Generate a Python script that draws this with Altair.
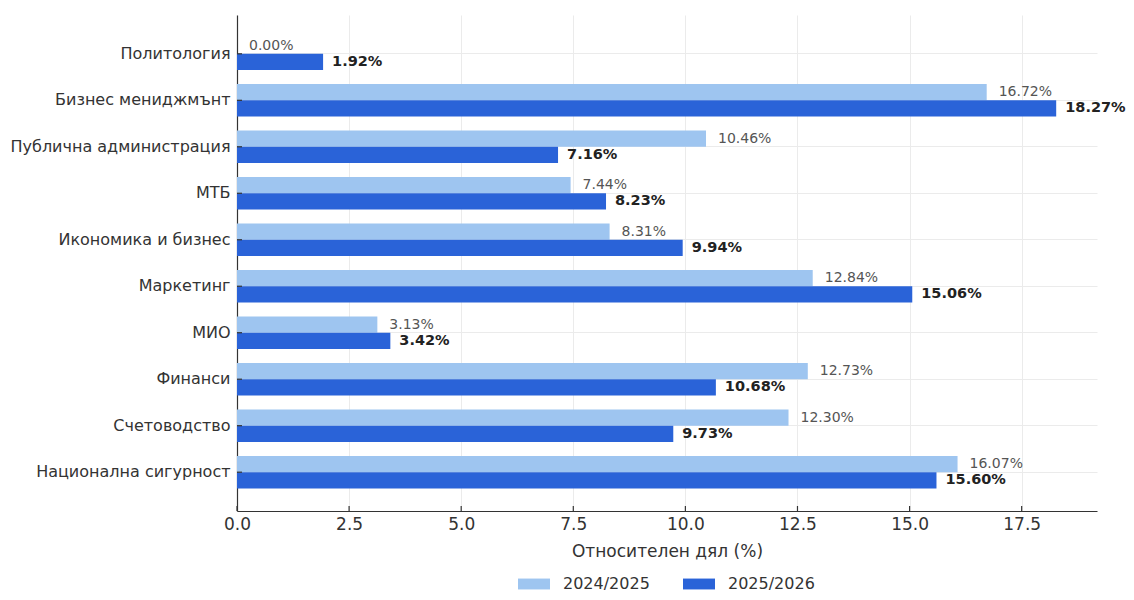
import altair as alt
import pandas as pd

FONT = "DejaVu Sans"

categories = ["Политология", "Бизнес мениджмънт", "Публична администрация", "МТБ",
              "Икономика и бизнес", "Маркетинг", "МИО", "Финанси", "Счетоводство",
              "Национална сигурност"]
series = ["2024/2025", "2025/2026"]
values_2024 = [0.00, 16.72, 10.46, 7.44, 8.31, 12.84, 3.13, 12.73, 12.30, 16.07]
values_2025 = [1.92, 18.27, 7.16, 8.23, 9.94, 15.06, 3.42, 10.68, 9.73, 15.60]
x_ticks = [0, 2.5, 5, 7.5, 10, 12.5, 15, 17.5]
colors = ["#9ec5f0", "#2a63d8"]

rows = []
for c, a, b in zip(categories, values_2024, values_2025):
    rows.append({"cat": c, "series": series[0], "value": a, "label": f"{a:.2f}%"})
    rows.append({"cat": c, "series": series[1], "value": b, "label": f"{b:.2f}%"})
df = pd.DataFrame(rows)
ticks_df = pd.DataFrame({"t": x_ticks})
cats_df = pd.DataFrame({"cat": categories})

W, H = 860, 496

xscale = alt.Scale(domain=[0, 19.18], nice=False, zero=True)
yscale = alt.Scale(domain=categories, paddingInner=0, paddingOuter=0.335)
yoff_scale = alt.Scale(domain=series, paddingInner=0, paddingOuter=0.4286)

x_axis = alt.Axis(values=x_ticks, format=".1f", title="Относителен дял (%)",
                  titleFontSize=17, titleFontWeight="normal", titleColor="#333",
                  titlePadding=11, labelFontSize=17, labelColor="#333", labelPadding=5,
                  labelFlush=False, ticks=False, grid=True, gridColor="#ebebeb",
                  gridWidth=1, domainColor="#333", domainWidth=1.2,
                  labelFont=FONT, titleFont=FONT)
y_axis = alt.Axis(title=None, labelFontSize=16, labelColor="#333", labelPadding=7,
                  ticks=False, grid=True, gridColor="#ebebeb", gridWidth=1,
                  bandPosition=0.5, domainColor="#333", domainWidth=1.2,
                  labelLimit=300, labelFont=FONT)

bars = alt.Chart(df).mark_bar().encode(
    x=alt.X("value:Q", scale=xscale, axis=x_axis),
    y=alt.Y("cat:N", scale=yscale, axis=y_axis),
    yOffset=alt.YOffset("series:N", scale=yoff_scale),
    color=alt.Color("series:N", scale=alt.Scale(domain=series, range=colors),
                    legend=alt.Legend(title=None, orient="none", direction="horizontal",
                                      legendX=281, legendY=553,
                                      symbolType="M-1,-0.34H1V0.34H-1Z",
                                      symbolSize=1024, labelFontSize=16,
                                      labelOffset=13, columnPadding=33,
                                      labelColor="#333", labelFont=FONT,
                                      symbolStrokeWidth=0)),
)

light_text = alt.Chart(df).transform_filter(
    alt.datum.series == series[0]
).mark_text(align="left", baseline="middle", dx=12, fontSize=14,
            color="#555", font=FONT).encode(
    x=alt.X("value:Q", scale=xscale, axis=x_axis),
    y=alt.Y("cat:N", scale=yscale, axis=y_axis),
    yOffset=alt.YOffset("series:N", scale=yoff_scale),
    text="label:N",
)

dark_text = alt.Chart(df).transform_filter(
    alt.datum.series == series[1]
).mark_text(align="left", baseline="middle", dx=9, fontSize=14.5,
            fontWeight="bold", color="#222", font=FONT).encode(
    x=alt.X("value:Q", scale=xscale, axis=x_axis),
    y=alt.Y("cat:N", scale=yscale, axis=y_axis),
    yOffset=alt.YOffset("series:N", scale=yoff_scale),
    text="label:N",
)

x_tick_marks = alt.Chart(ticks_df).mark_rule(color="#333", strokeWidth=1.2).encode(
    x=alt.X("t:Q", scale=xscale, axis=x_axis),
    y=alt.value(H - 5),
    y2=alt.value(H),
)

y_tick_marks = alt.Chart(cats_df).mark_rule(color="#333", strokeWidth=1.2).encode(
    y=alt.Y("cat:N", scale=yscale, axis=y_axis, bandPosition=0.5),
    x=alt.value(0),
    x2=alt.value(5),
)

chart = alt.layer(bars, light_text, dark_text, x_tick_marks, y_tick_marks).properties(
    width=W, height=H,
    autosize=alt.AutoSizeParams(type="none"),
    padding={"left": 229, "top": 7, "right": 29, "bottom": 81},
).configure(font=FONT).configure_view(stroke=None)

chart.save("out.html", embed_options={"renderer": "svg", "actions": False})
